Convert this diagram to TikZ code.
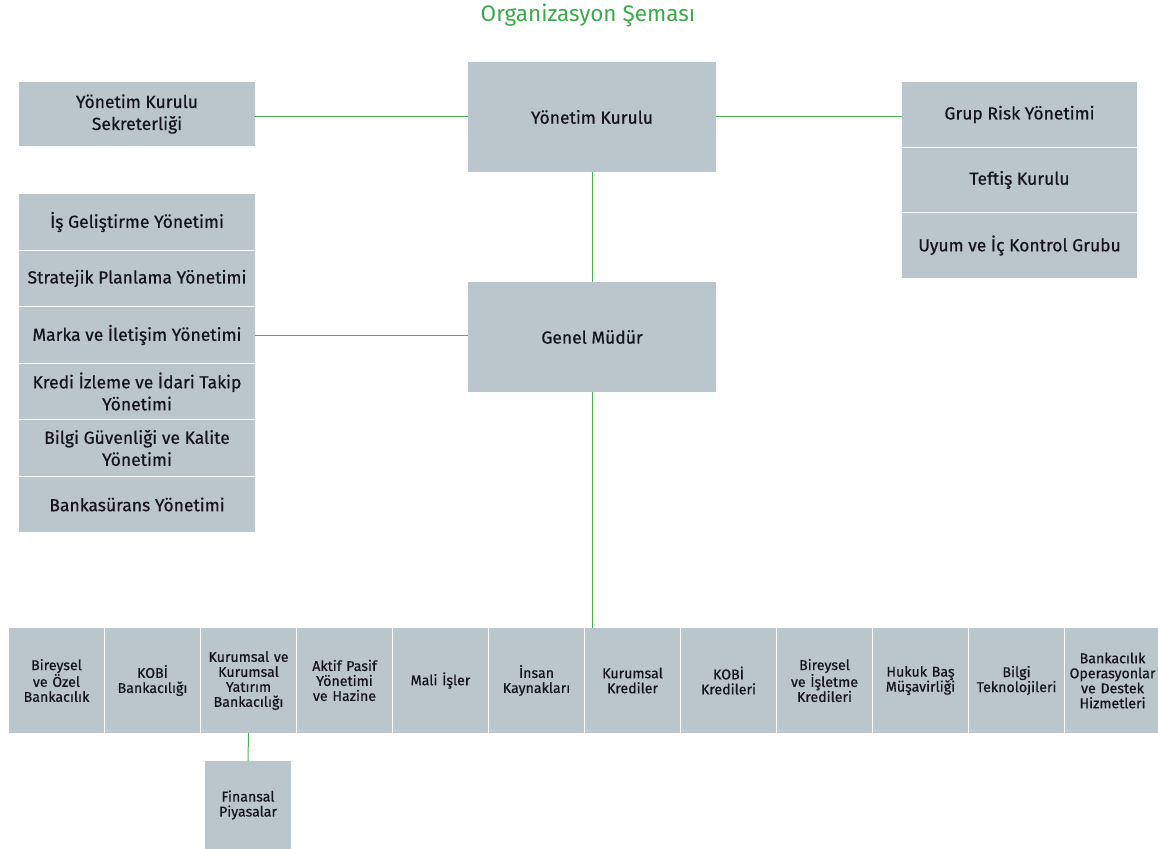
\documentclass[tikz,border=0pt]{standalone}
\usepackage{fontspec}
\setmainfont{Fira Sans}
\newfontfamily\boxfont{Fira Sans}[FakeBold=0.5]
\definecolor{boxgray}{RGB}{186,198,204}
\definecolor{linegreen}{RGB}{76,178,80}
\definecolor{titlegreen}{RGB}{58,170,72}
\definecolor{txt}{RGB}{20,20,26}

\begin{document}
\begin{tikzpicture}[x=1pt,y=-1pt,
    unit/.style={fill=boxgray, inner sep=2pt, align=center, text=txt},
    big/.style={unit, font=\boxfont\fontsize{17.5}{22}\selectfont},
    small/.style={unit, font=\boxfont\fontsize{14.2}{15}\selectfont, minimum width=95pt, minimum height=105pt, text width=86pt},
    link/.style={draw=linegreen, line width=1pt}]
    \useasboundingbox (0,0) rectangle (1158,848);

    \node[text=titlegreen, font=\fontsize{22.5}{26}\selectfont] (title) at (588,15) {Organizasyon Şeması};

    % top level
    \node[big, minimum width=248pt, minimum height=110pt] (yk) at (592,117) {Yönetim Kurulu};
    \node[big, minimum width=248pt, minimum height=110pt] (gm) at (592,337) {Genel Müdür};
    \node[big, minimum width=236pt, minimum height=64pt] (sek) at (137,114) {Yönetim Kurulu\\Sekreterliği};

    % left column
    \foreach \t [count=\i] in {İş Geliştirme Yönetimi, Stratejik Planlama Yönetimi, Marka ve İletişim Yönetimi,
        Kredi İzleme ve İdari Takip\\Yönetimi, Bilgi Güvenliği ve Kalite\\Yönetimi, Bankasürans Yönetimi}
        \node[big, minimum width=236pt, minimum height=55.5pt] (l\i) at (137,{222+56.5*(\i-1)}) {\t};

    % right column
    \foreach \t [count=\i] in {Grup Risk Yönetimi, Teftiş Kurulu, Uyum ve İç Kontrol Grubu}
        \node[big, minimum width=235pt, minimum height=64.5pt] (r\i) at (1019.5,{114.5+65.5*(\i-1)}) {\t};

    % bottom row
    \foreach \t [count=\i] in {Bireysel\\ve Özel\\Bankacılık, KOBİ\\Bankacılığı, Kurumsal ve\\Kurumsal\\Yatırım\\Bankacılığı,
        Aktif Pasif\\Yönetimi\\ve Hazine, Mali İşler, İnsan\\Kaynakları, Kurumsal\\Krediler, KOBİ\\Kredileri,
        Bireysel\\ve İşletme\\Kredileri, Hukuk Baş\\Müşavirliği, Bilgi\\Teknolojileri,
        Bankacılık\\Operasyonlar\\ve Destek\\Hizmetleri}
        \node[small] (b\i) at ({56.5+96*(\i-1)},680.5) {\t};

    \node[small, minimum width=86pt, minimum height=88pt, text width=78pt] (fin) at (248,805) {Finansal\\Piyasalar};

    % connectors
    \draw[link] (yk.west -| sek.east) -- (yk.west);
    \draw[link] (yk.east) -- (yk.east -| r1.west);
    \draw[link] (yk.south) -- (gm.north);
    \draw[link] (l3.east) -- (l3.east -| gm.west);
    \draw[link] (gm.south) -- (gm.south |- b7.north);
    \draw[link] (b3.south) -- (fin.north);
\end{tikzpicture}
\end{document}
